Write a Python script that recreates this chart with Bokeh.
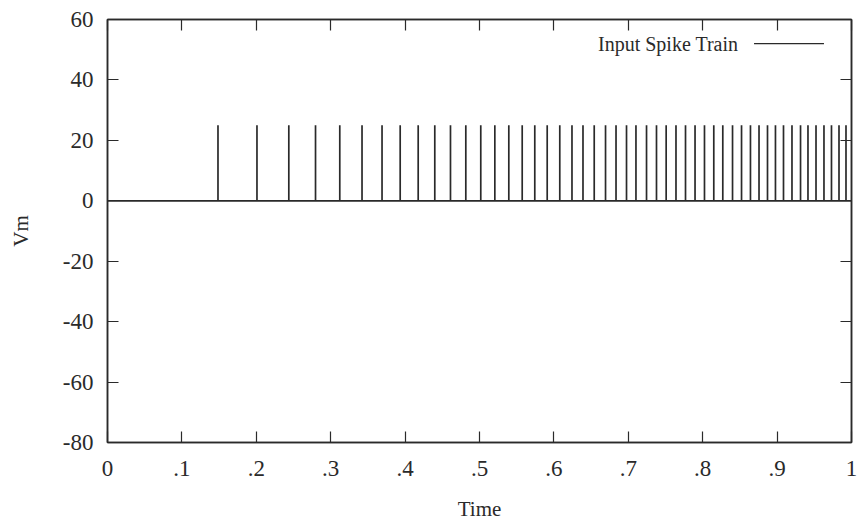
from bokeh.plotting import figure
from bokeh.models import LinearAxis, FixedTicker, Label, Arrow, Range1d
from bokeh.embed import file_html
from bokeh.resources import INLINE

# ---- data ----
spike_times = [0.1485, 0.2009, 0.2437, 0.2796, 0.3122, 0.3421, 0.3690, 0.3934,
               0.4176, 0.4399, 0.4610, 0.4816, 0.5017, 0.5206, 0.5394, 0.5574,
               0.5743, 0.5910, 0.6079, 0.6243, 0.6391, 0.6542, 0.6694, 0.6835,
               0.6976, 0.7103, 0.7245, 0.7379, 0.7509, 0.7641, 0.7769, 0.7897,
               0.8024, 0.8149, 0.8270, 0.8401, 0.8522, 0.8642, 0.8757, 0.8871,
               0.8978, 0.9086, 0.9200, 0.9315, 0.9415, 0.9523, 0.9630, 0.9731,
               0.9832, 0.9926]
rest_vm = 0.0
spike_vm = 25.0
t_start, t_end = 0.0, 1.0

x_ticks = [0, 0.1, 0.2, 0.3, 0.4, 0.5, 0.6, 0.7, 0.8, 0.9, 1.0]
x_tick_labels = ["0", ".1", ".2", ".3", ".4", ".5", ".6", ".7", ".8", ".9", "1"]
y_ticks = [-80, -60, -40, -20, 0, 20, 40, 60]
y_tick_labels = ["-80", "-60", "-40", "-20", "0", "20", "40", "60"]
series_name = "Input Spike Train"

# build the trace: baseline with vertical spikes
trace_t = [t_start]
trace_v = [rest_vm]
for t in spike_times:
    trace_t += [t, t, t]
    trace_v += [rest_vm, spike_vm, rest_vm]
trace_t.append(t_end)
trace_v.append(rest_vm)

FONT = "Liberation Serif"
INK = "#2a2a2a"

p = figure(width=862, height=526, output_backend="svg", toolbar_location=None,
           x_range=Range1d(0, 1), y_range=Range1d(-80, 60),
           min_border_left=107, min_border_right=11,
           min_border_top=19, min_border_bottom=84)
p.background_fill_color = "white"
p.border_fill_color = "white"
p.outline_line_color = INK
p.outline_line_width = 1.5
p.grid.visible = False

p.line(trace_t, trace_v, line_color=INK, line_width=1.7)

# axes
xax = p.xaxis[0]
yax = p.yaxis[0]
for ax in (xax, yax):
    ax.axis_line_color = INK
    ax.axis_line_width = 1.5
    ax.major_tick_in = 11
    ax.major_tick_out = 0
    ax.major_tick_line_color = INK
    ax.major_tick_line_width = 1.2
    ax.minor_tick_line_color = None
    ax.major_label_text_font = FONT
    ax.major_label_text_font_size = "23px"
    ax.major_label_text_color = INK
    ax.axis_label_text_font = FONT
    ax.axis_label_text_font_size = "21px"
    ax.axis_label_text_font_style = "normal"
    ax.axis_label_text_color = INK

xax.ticker = FixedTicker(ticks=x_ticks)
xax.major_label_overrides = dict(zip(x_ticks, x_tick_labels))
xax.major_label_standoff = 18
xax.axis_label = "Time"
xax.axis_label_standoff = 18

yax.ticker = FixedTicker(ticks=y_ticks)
yax.major_label_overrides = dict(zip(y_ticks, y_tick_labels))
yax.major_label_standoff = 14
yax.axis_label = "Vm"
yax.axis_label_standoff = 27

# mirrored tick axes (top / right), labels left empty
top = LinearAxis(ticker=FixedTicker(ticks=x_ticks))
right = LinearAxis(ticker=FixedTicker(ticks=y_ticks))
top.major_label_overrides = {t: "" for t in x_ticks}
right.major_label_overrides = {t: "" for t in y_ticks}
for ax in (top, right):
    ax.axis_line_color = INK
    ax.axis_line_width = 1.5
    ax.major_tick_in = 11
    ax.major_tick_out = 0
    ax.major_tick_line_color = INK
    ax.major_tick_line_width = 1.2
    ax.minor_tick_line_color = None
    ax.major_label_standoff = 0
p.add_layout(top, "above")
p.add_layout(right, "right")

# key (gnuplot style: text then line sample)
p.add_layout(Label(x=0.848, y=52, text=series_name, text_align="right",
                   text_baseline="middle", text_font=FONT,
                   text_font_size="20px", text_color=INK))
p.add_layout(Arrow(x_start=0.869, y_start=52, x_end=0.963, y_end=52,
                   start=None, end=None, line_color=INK, line_width=1.4))

open("out.html", "w").write(file_html(p, INLINE))
